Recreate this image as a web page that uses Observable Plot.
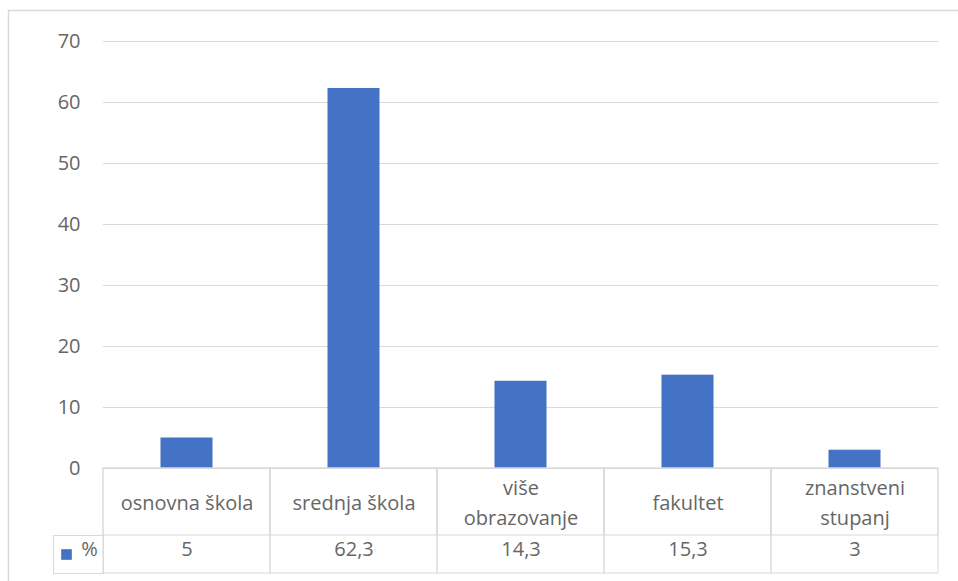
<!DOCTYPE html>
<html>
<head>
<meta charset="utf-8">
<script src="https://cdn.jsdelivr.net/npm/d3@7"></script>
<script src="https://cdn.jsdelivr.net/npm/@observablehq/plot@0.6"></script>
<style>
  html, body { margin: 0; padding: 0; background: #ffffff; overflow: hidden; }
  #chart svg { display: block; }
</style>
</head>
<body>
<div id="chart"></div>
<script>
// ---- data ----
const categories = ["osnovna škola", "srednja škola", "više obrazovanje", "fakultet", "znanstveni stupanj"];
const categoryLabels = ["osnovna škola", "srednja škola", "više\nobrazovanje", "fakultet", "znanstveni\nstupanj"];
const percentValues = [5, 62.3, 14.3, 15.3, 3];
const yTicks = [0, 10, 20, 30, 40, 50, 60, 70];
const seriesName = "%";

const rows = categories.map((c, i) => ({category: c, label: categoryLabels[i], value: percentValues[i]}));
const fmt = v => String(v).replace(".", ",");

// ---- layout ----
const W = 958, H = 581;
const mt = 41, mb = 113, ml = 103, mr = 20;
const frameH = H - mt - mb;
const frameW = W - ml - mr;
const catRowH = 67, valRowH = 38;
const gray = "#d9d9d9", textColor = "#666666", barColor = "#4472C4";
const fontSize = 20;

const chart = Plot.plot({
  width: W, height: H,
  marginTop: mt, marginBottom: mb, marginLeft: ml, marginRight: mr,
  style: {fontFamily: "'Open Sans', sans-serif", fontSize: fontSize + "px", color: textColor, background: "#ffffff"},
  x: {domain: categories, padding: 0, axis: null},
  y: {domain: [0, 70], axis: null},
  marks: [
    // outer chart border
    Plot.frame({stroke: gray, strokeWidth: 1.5, insetLeft: -(ml - 8), insetTop: -(mt - 10), insetRight: -40, insetBottom: -140}),
    // gridlines
    Plot.ruleY(yTicks, {y: d => d, stroke: gray, strokeWidth: 1}),
    // bars
    Plot.barY(rows, {x: "category", y: "value", fill: barColor, insetLeft: 57.5, insetRight: 57.5}),
    // y axis labels
    Plot.axisY(yTicks, {tickSize: 0, tickPadding: 23, label: null, fill: textColor, fontSize: fontSize}),
    // data table: category row cells
    Plot.cell(rows, {x: "category", fill: "none", stroke: gray, insetTop: frameH, insetBottom: -catRowH}),
    // data table: full cells (category + value rows)
    Plot.cell(rows, {x: "category", fill: "none", stroke: gray, insetTop: frameH, insetBottom: -(catRowH + valRowH)}),
    // legend cell on the left of value row
    Plot.frame({stroke: gray, strokeWidth: 1, insetLeft: -50, insetRight: frameW, insetTop: frameH + catRowH, insetBottom: -(catRowH + valRowH)}),
    // category labels
    Plot.text(rows, {x: "category", text: "label", frameAnchor: "bottom", dy: catRowH / 2 - 2, lineAnchor: "middle", lineHeight: 1.5, fill: textColor, fontSize: fontSize}),
    // values
    Plot.text(rows, {x: "category", text: d => fmt(d.value), frameAnchor: "bottom", dy: catRowH + valRowH / 2 + 1, fill: textColor, fontSize: fontSize}),
    // legend key
    Plot.dot([seriesName], {frameAnchor: "bottom-left", dx: -37, dy: catRowH + valRowH / 2, symbol: "square", r: 6, fill: barColor}),
    Plot.text([seriesName], {frameAnchor: "bottom-left", text: d => d, textAnchor: "middle", dx: -14, dy: catRowH + valRowH / 2 + 1, fill: textColor, fontSize: fontSize})
  ]
});
document.getElementById("chart").append(chart);
</script>
</body>
</html>
